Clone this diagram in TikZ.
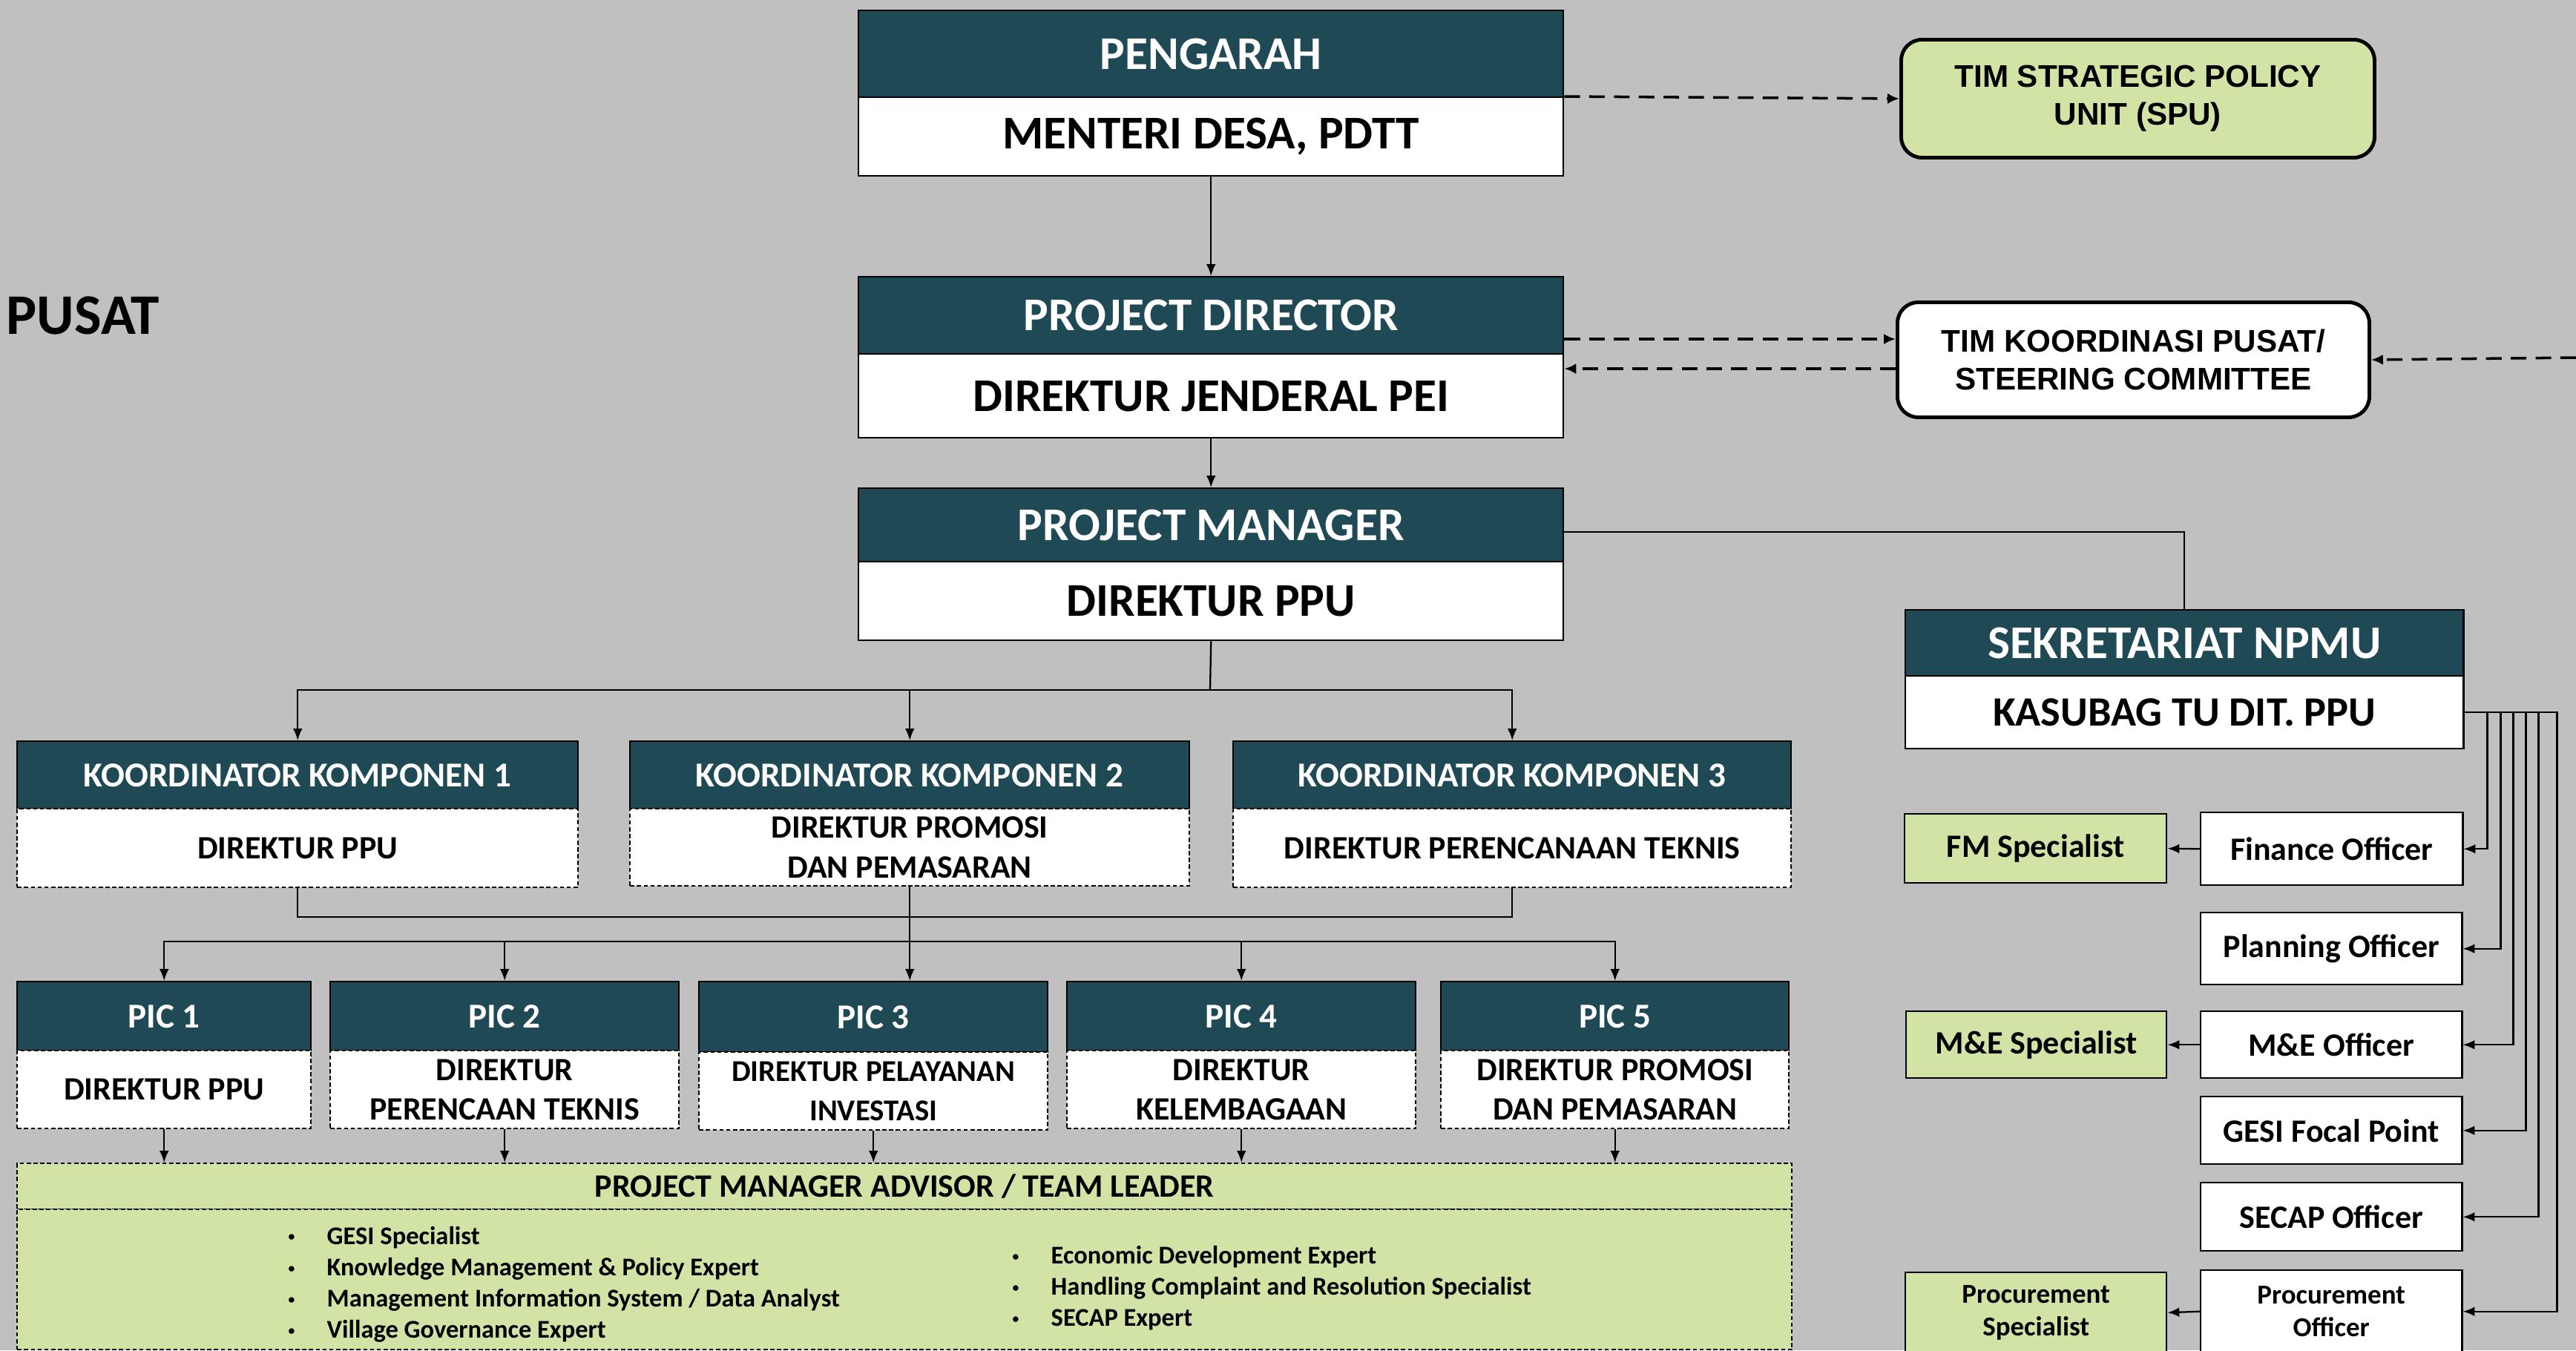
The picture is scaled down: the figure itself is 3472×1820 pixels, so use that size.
\documentclass[tikz,border=0pt]{standalone}
\usepackage{fontspec}
\setmainfont{Carlito}
\newfontfamily\carl{Carlito}
\newfontfamily\arl{Liberation Sans}
\usetikzlibrary{arrows.meta,calc}
\definecolor{bgc}{RGB}{192,192,192}
\definecolor{teal1}{RGB}{31,73,85}
\definecolor{grn}{RGB}{210,227,166}
\newcommand\fsz[2]{\fontsize{#1}{#2}\selectfont}
\newcommand\fA{\carl\bfseries\fsz{18}{21}}
\newcommand\fB{\carl\bfseries\fsz{16}{19}}
\newcommand\fC{\carl\bfseries\fsz{13.4}{16}}
\newcommand\fD{\carl\bfseries\fsz{12.5}{15.2}}
\newcommand\fDs{\carl\bfseries\fsz{11.6}{15.2}}
\newcommand\fE{\carl\bfseries\fsz{10.5}{12.6}}
\newcommand\fF{\carl\bfseries\fsz{9.8}{11.95}}
\newcommand\fP{\carl\bfseries\fsz{22}{26}}
\newcommand\bul{\makebox[0.52cm][l]{\raisebox{0.25ex}{\fsz{5}{5}•}}}
\newcommand\bx[7]{\node[#2,anchor=north west,minimum width={(#5-#3)*0.01cm},minimum height={(#6-#4)*0.01cm}] (#1) at (#3,#4) {#7};}
\tikzset{
  hdr/.style={draw=black,fill=teal1,text=white,line width=0.7pt,inner sep=0pt,align=center},
  wbox/.style={draw=black,fill=white,line width=0.7pt,inner sep=0pt,align=center},
  dbox/.style={wbox,dash pattern=on 1.6pt off 1pt},
  gbox/.style={draw=black,fill=grn,line width=0.7pt,inner sep=0pt,align=center},
  gdbox/.style={gbox,dash pattern=on 1.6pt off 1pt},
  rbox/.style={draw=black,line width=1.4pt,rounded corners=0.28cm,inner sep=0pt,align=center,font=\arl\bfseries\fsz{12}{14.5}},
  ln/.style={draw=black,line width=0.65pt},
  arr/.style={draw=black,line width=0.65pt,-{Latex[length=4.5pt,width=3.6pt]}},
  darr/.style={draw=black,line width=1pt,dash pattern=on 6pt off 3.5pt,-{Latex[length=4.5pt,width=4pt]}},
  listtxt/.style={font=\fF,align=left,inner sep=0pt}
}
\begin{document}
\begin{tikzpicture}[x=0.01cm,y=-0.01cm]
\useasboundingbox (0,0) rectangle (3472,1820);
\clip (0,0) rectangle (3472,1820);
\fill[bgc] (0,0) rectangle (3472,1820);

\node[anchor=west,inner sep=0pt,font=\fP] (pusat) at (8,425) {PUSAT};

% top column
\bx{pengH}{hdr,font=\fA}{1156}{13}{2106}{130}{PENGARAH}
\bx{pengL}{wbox,font=\fA}{1156}{130}{2106}{236}{MENTERI DESA, PDTT}
\bx{spu}{rbox,fill=grn}{2560}{51}{3198}{210}{TIM STRATEGIC POLICY\\UNIT (SPU)}
\bx{pdH}{hdr,font=\fA}{1156}{372}{2106}{476}{PROJECT DIRECTOR}
\bx{pdL}{wbox,font=\fA}{1156}{476}{2106}{589}{DIREKTUR JENDERAL PEI}
\bx{timk}{rbox,fill=white}{2555}{405}{3191}{560}{TIM KOORDINASI PUSAT/\\STEERING COMMITTEE}
\bx{pmH}{hdr,font=\fA}{1156}{657}{2106}{756}{PROJECT MANAGER}
\bx{pmL}{wbox,font=\fA}{1156}{756}{2106}{862}{DIREKTUR PPU}
\bx{sekH}{hdr,font=\fA}{2567}{821}{3319}{910}{SEKRETARIAT NPMU}
\bx{sekL}{wbox,font=\fB}{2567}{910}{3319}{1008}{KASUBAG TU DIT. PPU}

% koordinator
\bx{kk1H}{hdr,font=\fC}{22}{998}{778}{1089}{KOORDINATOR KOMPONEN 1}
\bx{kk1L}{dbox,font=\fD}{22}{1089}{778}{1195}{DIREKTUR PPU}
\bx{kk2H}{hdr,font=\fC}{848}{998}{1602}{1089}{KOORDINATOR KOMPONEN 2}
\bx{kk2L}{dbox,font=\fD}{848}{1089}{1602}{1193}{DIREKTUR PROMOSI\\DAN PEMASARAN}
\bx{kk3H}{hdr,font=\fC}{1661}{998}{2413}{1089}{KOORDINATOR KOMPONEN 3}
\bx{kk3L}{dbox,font=\fD}{1661}{1089}{2413}{1195}{DIREKTUR PERENCANAAN TEKNIS}

% PIC
\bx{p1H}{hdr,font=\fC}{22}{1322}{418}{1415}{PIC 1}
\bx{p1L}{dbox,font=\fD}{22}{1415}{418}{1520}{DIREKTUR PPU}
\bx{p2H}{hdr,font=\fC}{444}{1322}{914}{1415}{PIC 2}
\bx{p2L}{dbox,font=\fD}{444}{1415}{914}{1520}{DIREKTUR\\PERENCAAN TEKNIS}
\bx{p3H}{hdr,font=\fC}{941}{1322}{1411}{1417}{PIC 3}
\bx{p3L}{dbox,font=\fDs}{941}{1417}{1411}{1522}{DIREKTUR PELAYANAN\\INVESTASI}
\bx{p4H}{hdr,font=\fC}{1437}{1322}{1907}{1415}{PIC 4}
\bx{p4L}{dbox,font=\fD}{1437}{1415}{1907}{1520}{DIREKTUR\\KELEMBAGAAN}
\bx{p5H}{hdr,font=\fC}{1941}{1322}{2410}{1415}{PIC 5}
\bx{p5L}{dbox,font=\fD}{1941}{1415}{2410}{1520}{DIREKTUR PROMOSI\\DAN PEMASARAN}

% advisor
\bx{advH}{gdbox,font=\fD}{22}{1567}{2414}{1629}{PROJECT MANAGER ADVISOR / TEAM LEADER}
\bx{advB}{gdbox}{22}{1629}{2414}{1818}{}
\node[listtxt,anchor=west] (advl) at (388,1731) {\bul GESI Specialist\\\bul Knowledge Management \& Policy Expert\\\bul Management Information System / Data Analyst\\\bul Village Governance Expert};
\node[listtxt,anchor=west] (advr) at (1364,1736) {\bul Economic Development Expert\\\bul Handling Complaint and Resolution Specialist\\\bul SECAP Expert};

% right column
\bx{fms}{gbox,font=\fD}{2566}{1096}{2919}{1189}{FM Specialist}
\bx{fin}{wbox,font=\fD}{2965}{1094}{3318}{1192}{Finance Officer}
\bx{pln}{wbox,font=\fD}{2965}{1229}{3317}{1326}{Planning Officer}
\bx{mes}{gbox,font=\fD}{2568}{1362}{2919}{1452}{M\&E Specialist}
\bx{meo}{wbox,font=\fD}{2965}{1362}{3317}{1452}{M\&E Officer}
\bx{gesi}{wbox,font=\fD}{2965}{1477}{3317}{1568}{GESI Focal Point}
\bx{secap}{wbox,font=\fD}{2965}{1593}{3317}{1685}{SECAP Officer}
\bx{pro}{wbox,font=\fE}{2965}{1711}{3317}{1822}{Procurement\\Officer}
\bx{prs}{gbox,font=\fE}{2567}{1714}{2919}{1822}{Procurement\\Specialist}

% connectors
\draw[darr] (pengL.north east) -- (spu.west);
\draw[arr] (pengL.south) -- (pdH.north);
\draw[darr] (pdH.east |- 0,457) -- (timk.west |- 0,457);
\draw[darr] (timk.west |- 0,497) -- (pdL.east |- 0,497);
\coordinate (edgeR) at (3472,482);
\draw[darr] (edgeR) -- (timk.east);
\draw[arr] (pdL.south) -- (pmH.north);
\draw[ln] (pmH.east |- 0,717) -| (sekH.north);
\coordinate (bus1) at (1631,930);
\draw[ln] (pmL.south) -- (bus1);
\draw[arr] (bus1) -| (kk1H.north);
\draw[arr] (bus1) -| (kk2H.north);
\draw[arr] (bus1) -| (kk3H.north);
\draw[ln] (kk1L.south) |- (kk3L.south |- 0,1236) -- (kk3L.south);
\draw[arr] (kk2L.south) -- (kk2L.south |- p3H.north);
\coordinate (bus2) at (kk2L.south |- 0,1269);
\foreach \p in {p1H,p2H,p4H,p5H} \draw[arr] (bus2) -| (\p.north);
\foreach \p in {p1L,p2L,p3L,p4L,p5L} \draw[arr] (\p.south) -- (\p.south |- advH.north);

\draw[arr] (sekL.east) -| ($(fin.east)+(32,0)$) -- (fin.east);
\draw[arr] (sekL.east) -| ($(pln.east)+(51,0)$) -- (pln.east);
\draw[arr] (sekL.east) -| ($(meo.east)+(68,0)$) -- (meo.east);
\draw[arr] (sekL.east) -| ($(gesi.east)+(85,0)$) -- (gesi.east);
\draw[arr] (sekL.east) -| ($(secap.east)+(102,0)$) -- (secap.east);
\draw[arr] (sekL.east) -| ($(pro.east)+(127,0)$) -- (pro.east);
\draw[arr] (fin.west) -- (fms.east);
\draw[arr] (meo.west) -- (mes.east);
\draw[arr] (pro.west) -- (prs.east);
\end{tikzpicture}
\end{document}
